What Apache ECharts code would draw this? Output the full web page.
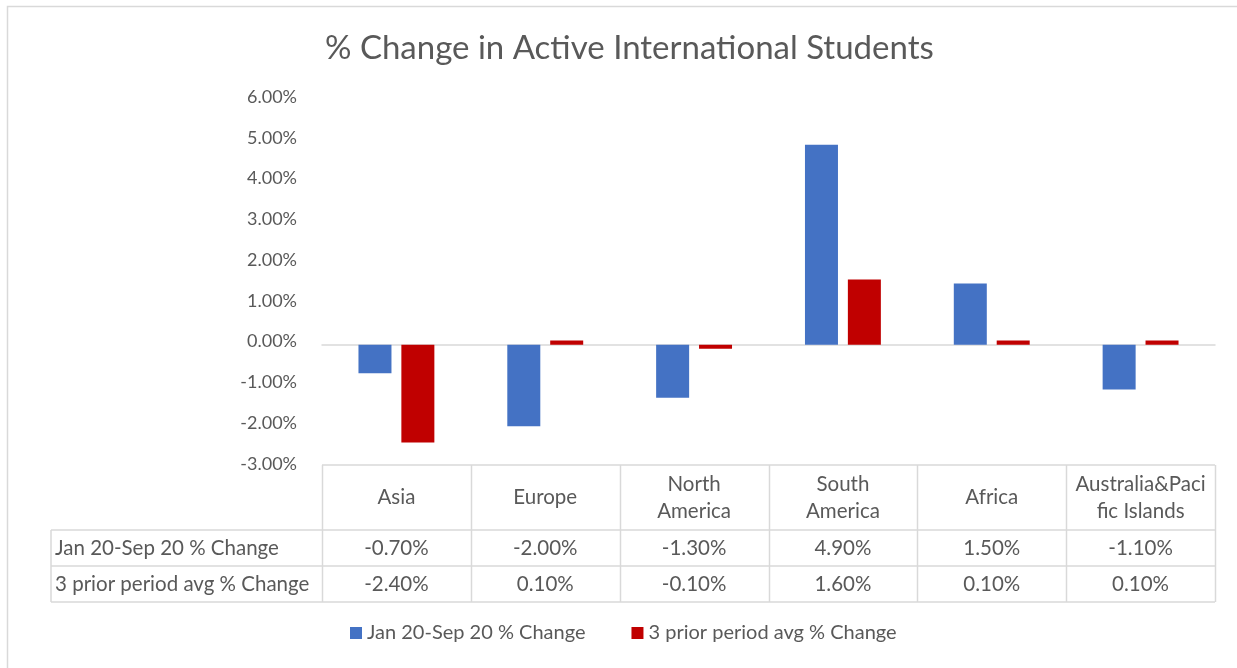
<!DOCTYPE html>
<html>
<head>
<meta charset="utf-8">
<script src="https://cdn.jsdelivr.net/npm/echarts@6/dist/echarts.min.js"></script>
<style>
html,body{margin:0;padding:0;background:#fff;}
#chart{width:1237px;height:668px;}
</style>
</head>
<body>
<div id="chart"></div>
<script>
// ---- data ----
const categories = ['Asia', 'Europe', 'North America', 'South America', 'Africa', 'Australia&Pacific Islands'];
const categoryLabels = ['Asia', 'Europe', 'North\nAmerica', 'South\nAmerica', 'Africa', 'Australia&Paci\nfic Islands'];
const seriesNames = ['Jan 20-Sep 20 % Change', '3 prior period avg % Change'];
const janSepChange = [-0.70, -2.00, -1.30, 4.90, 1.50, -1.10];
const priorAvgChange = [-2.40, 0.10, -0.10, 1.60, 0.10, 0.10];
const yTicks = { min: -3, max: 6, interval: 1 };

// ---- layout ----
const FONT = 'Lato, "Open Sans", sans-serif';
const TXT = '#595959';
const BORDER = '#d9d9d9';
const G = { left: 322, top: 100, width: 893, height: 367 };
const tableTop = 465;
const headerH = 65, rowH = 36, labelLeft = 51;

const chart = echarts.init(document.getElementById('chart'));

const fmt = v => v.toFixed(2) + '%';
const colW = G.width / categories.length;

const graphics = [];
// outer frame
graphics.push({ type: 'rect', shape: { x: 7.5, y: 6.5, width: 1260, height: 700 }, style: { fill: 'none', stroke: BORDER, lineWidth: 1.5 }, silent: true });

const line = (x1, y1, x2, y2) => graphics.push({ type: 'line', shape: { x1, y1, x2, y2 }, style: { stroke: BORDER, lineWidth: 1.5 }, silent: true });
const right = G.left + G.width;
const yRow1 = tableTop + headerH, yRow2 = yRow1 + rowH, yEnd = yRow2 + rowH;
line(G.left, tableTop, right, tableTop);
line(labelLeft, yRow1, right, yRow1);
line(labelLeft, yRow2, right, yRow2);
line(labelLeft, yEnd, right, yEnd);
line(labelLeft, yRow1, labelLeft, yEnd);
for (let i = 0; i <= categories.length; i++) {
  const x = Math.round(G.left + i * colW) + 0.5;
  line(x, tableTop, x, yEnd);
}
const txt = (x, y, text, align) => graphics.push({ type: 'text', x, y, silent: true,
  style: { text, fill: TXT, font: '20.5px ' + FONT, align: align || 'center', verticalAlign: 'middle', lineHeight: 27 } });
categoryLabels.forEach((c, i) => {
  const cx = G.left + (i + 0.5) * colW;
  txt(cx, tableTop + headerH / 2, c);
  txt(cx, yRow1 + rowH / 2, fmt(janSepChange[i]));
  txt(cx, yRow2 + rowH / 2, fmt(priorAvgChange[i]));
});
txt(labelLeft + 4, yRow1 + rowH / 2, seriesNames[0], 'left');
txt(labelLeft + 4, yRow2 + rowH / 2, seriesNames[1], 'left');

chart.setOption({
  backgroundColor: '#fff',
  animation: false,
  title: {
    text: '% Change in Active International Students',
    left: 320, top: 27,
    textStyle: { fontFamily: FONT, fontSize: 33, fontWeight: 'normal', color: TXT }
  },
  legend: {
    data: seriesNames,
    left: 345, top: 618,
    itemWidth: 12, itemHeight: 12, itemGap: 46,
    icon: 'rect',
    textStyle: { fontFamily: FONT, fontSize: 20, color: TXT }
  },
  grid: { left: G.left, top: G.top, width: G.width, height: G.height, containLabel: false },
  xAxis: {
    type: 'category', data: categories,
    axisLine: { show: true, onZero: true, lineStyle: { color: BORDER, width: 1.5 } },
    axisTick: { show: false }, axisLabel: { show: false }, splitLine: { show: false }
  },
  yAxis: {
    type: 'value', min: yTicks.min, max: yTicks.max, interval: yTicks.interval,
    axisLine: { show: false }, axisTick: { show: false }, splitLine: { show: false },
    axisLabel: {
      formatter: v => '{a|' + fmt(v) + '}', margin: 25,
      rich: { a: { color: TXT, fontFamily: FONT, fontSize: 18, padding: [0, 0, 6, 0] } }
    }
  },
  series: [
    { name: seriesNames[0], type: 'bar', data: janSepChange, barWidth: 33, barGap: '30%', itemStyle: { color: '#4472C4' } },
    { name: seriesNames[1], type: 'bar', data: priorAvgChange, barWidth: 33, itemStyle: { color: '#C00000' } }
  ],
  graphic: graphics
});
</script>
</body>
</html>
